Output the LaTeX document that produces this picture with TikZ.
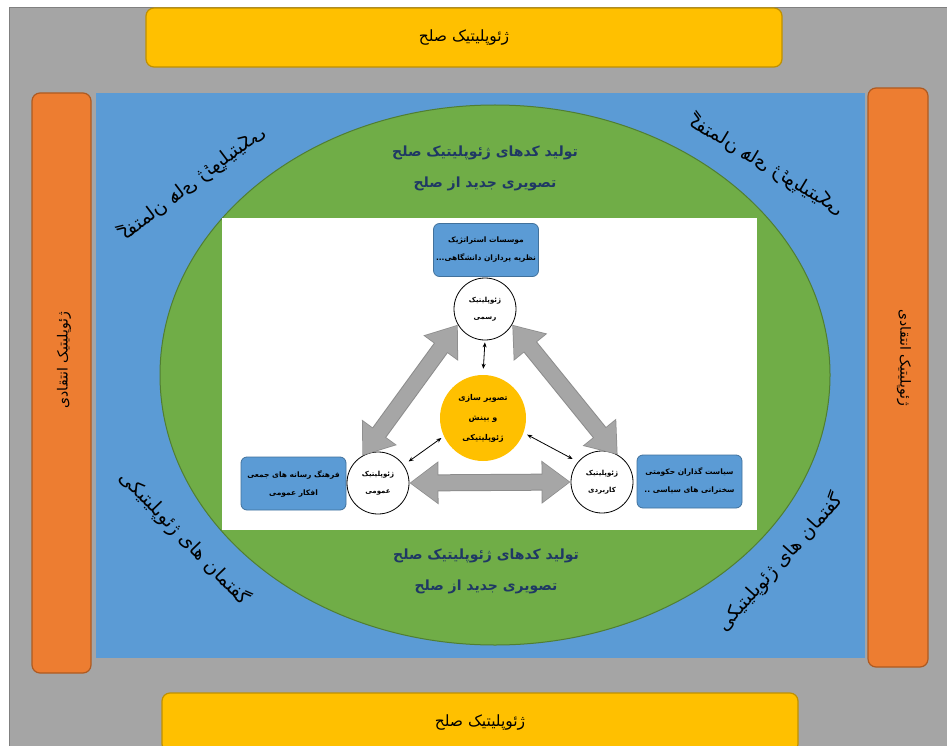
\documentclass[tikz,border=0pt]{standalone}
\usepackage{fontspec}
\usetikzlibrary{arrows.meta,calc}
\newfontfamily\fa[Script=Arabic]{DejaVu Sans}
\TeXXeTstate=1
\newcommand\rl[1]{\beginR#1\endR}
\definecolor{bggray}{HTML}{A5A5A5}
\definecolor{bgline}{HTML}{808080}
\definecolor{yfill}{HTML}{FFC000}
\definecolor{ybord}{HTML}{BF9000}
\definecolor{ofill}{HTML}{ED7D31}
\definecolor{obord}{HTML}{AE5A21}
\definecolor{bfill}{HTML}{5B9BD5}
\definecolor{bbord}{HTML}{41719C}
\definecolor{gfill}{HTML}{70AD47}
\definecolor{gbord}{HTML}{507E32}
\definecolor{navy}{HTML}{1F3864}
\definecolor{agray}{HTML}{A6A6A6}
\definecolor{agrayd}{HTML}{8C8C8C}
\tikzset{
  ybar/.style={draw=ybord, fill=yfill, line width=1.2pt, rounded corners=8pt, inner sep=0pt,
    font=\fa\fontsize{15.5}{18}\selectfont},
  obar/.style={draw=obord, fill=ofill, line width=1.2pt, rounded corners=8pt, inner sep=0pt},
  otext/.style={font=\fa\fontsize{14}{16}\selectfont, inner sep=0pt},
  etext/.style={font=\fa\bfseries\fontsize{14}{31}\selectfont, text=navy, align=center, inner sep=0pt},
  corner/.style={font=\fa\fontsize{19}{23}\selectfont, inner sep=0pt},
  ibox/.style={draw=bbord, fill=bfill, rounded corners=6pt, line width=0.8pt,
    minimum width=105pt, minimum height=53pt, align=center, inner sep=0pt,
    font=\fa\bfseries\fontsize{7.5}{18}\selectfont},
  circ/.style={circle, draw=black, fill=white, line width=0.8pt, minimum size=62pt,
    inner sep=0pt, align=center, font=\fa\bfseries\fontsize{7}{17}\selectfont},
  ccirc/.style={circle, fill=yfill, minimum size=86pt, inner sep=0pt, align=center,
    font=\fa\bfseries\fontsize{8}{20}\selectfont},
  bigarrb/.style={draw=agrayd, line width=17pt,
    {Triangle[width=41pt,length=29pt]}-{Triangle[width=41pt,length=29pt]}},
  bigarr/.style={draw=agray, line width=15pt, shorten <=1.2pt, shorten >=1.2pt,
    {Triangle[width=38pt,length=27pt]}-{Triangle[width=38pt,length=27pt]}},
  smallarr/.style={draw=black, line width=0.8pt,
    {Stealth[length=5pt,width=4pt]}-{Stealth[length=5pt,width=4pt]}}
}
\begin{document}
\begin{tikzpicture}[x=1pt,y=-1pt]
\useasboundingbox (0,0) rectangle (947,746);
\fill[white] (0,0) rectangle (947,746);
% gray background
\fill[bggray] (9,8) rectangle (947,746);
\draw[bgline, line width=1pt] (9,746) -- (9,8) -- (947,8);
% blue panel
\fill[bfill] (96,93) rectangle (865,658);
% side bars
\node[obar, minimum width=59pt, minimum height=580pt] (lbar) at (61.5,383) {};
\node[obar, minimum width=60pt, minimum height=579pt] (rbar) at (898,377.5) {};
\node[otext, rotate=90] (ltext) at (64,360) {\rl{ژئوپلیتیک انتقادی}};
\node[otext, rotate=-90] (rtext) at (904,358) {\rl{ژئوپلیتیک انتقادی}};
% top and bottom bars
\node[ybar, minimum width=636pt, minimum height=59pt] (tbar) at (464,37.5) {\rl{ژئوپلیتیک صلح}};
\node[ybar, minimum width=636pt, minimum height=59pt] (bbar) at (480,722.5) {\rl{ژئوپلیتیک صلح}};
% green ellipse
\draw[fill=gfill, draw=gbord, line width=1pt] (495,375) ellipse [x radius=335pt, y radius=270pt];
% corner texts
\node[corner, rotate=-46] (gbl) at (185,538) {\rl{گفتمان های ژئوپلیتیکی}};
\node[corner, rotate=48] (gbr) at (780,562) {\rl{گفتمان های ژئوپلیتیکی}};
\node[corner, xscale=-1, rotate=-37] (gtl) at (192,183) {\rl{گفتمان های ژئوپلیتیکی}};
\node[corner, xscale=-1, rotate=31] (gtr) at (767,165) {\rl{گفتمان های ژئوپلیتیکی}};
% ellipse texts
\node[etext] (etop) at (485,168) {\rl{تولید کدهای ژئوپلیتیک صلح}\\\rl{تصویری جدید از صلح}};
\node[etext] (ebot) at (486,571) {\rl{تولید کدهای ژئوپلیتیک صلح}\\\rl{تصویری جدید از صلح}};
% white panel
\fill[white] (222,218) rectangle (757,530);
% inner diagram
\node[ibox] (tbox) at (486,250) {\rl{موسسات استراتژیک}\\\rl{نظریه پردازان دانشگاهی...}};
\node[ibox] (lbox) at (293.5,483.5) {\rl{فرهنگ رسانه های جمعی}\\\rl{افکار عمومی}};
\node[ibox] (rbox) at (689.5,481.5) {\rl{سیاست گذاران حکومتی}\\\rl{سخنرانی های سیاسی ..}};
\node[circ] (tc) at (485,309) {\rl{ژئوپلیتیک}\\\rl{رسمی}};
\node[circ] (lc) at (378,483) {\rl{ژئوپلیتیک}\\\rl{عمومی}};
\node[circ] (rc) at (602,482) {\rl{ژئوپلیتیک}\\\rl{کاربردی}};
\node[ccirc] (cc) at (483,418) {\rl{تصویر سازی}\\\rl{و بینش}\\\rl{ژئوپلیتیکی}};
% big gray arrows (outline pass, then fill pass)
\draw[bigarrb] (lc.120) -- (tc.210);
\draw[bigarrb] (tc.-30) -- (rc.60);
\draw[bigarrb] (lc.east) -- (rc.west);
\draw[bigarr] (lc.120) -- (tc.210);
\draw[bigarr] (tc.-30) -- (rc.60);
\draw[bigarr] (lc.east) -- (rc.west);
% small arrows
\draw[smallarr, shorten <=2pt, shorten >=6pt] (tc.south) -- (cc.north);
\draw[smallarr, shorten <=6pt, shorten >=3pt] (lc.35) -- (cc.205);
\draw[smallarr, shorten <=4pt, shorten >=6pt] (cc.-20) -- (rc.140);
\end{tikzpicture}
\end{document}
